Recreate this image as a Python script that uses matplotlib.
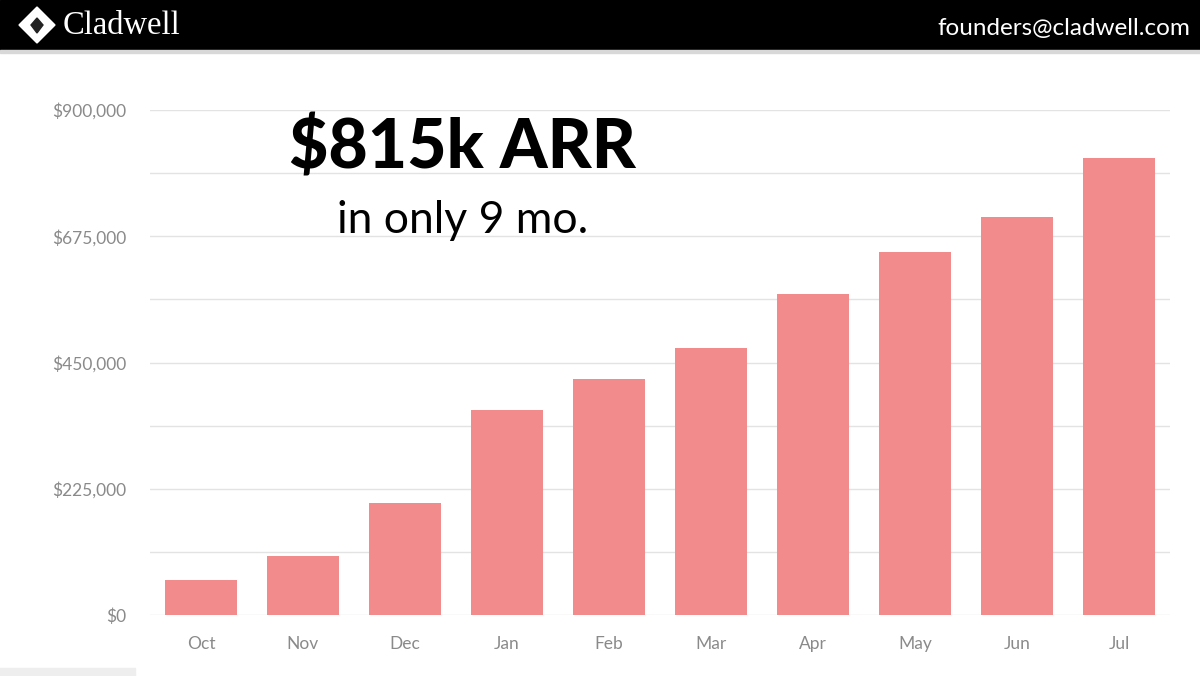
import matplotlib
matplotlib.use('Agg')
import matplotlib.pyplot as plt
from matplotlib.patches import Rectangle, Polygon
from matplotlib.ticker import FuncFormatter, MultipleLocator

months = ['Oct', 'Nov', 'Dec', 'Jan', 'Feb', 'Mar', 'Apr', 'May', 'Jun', 'Jul']
arr = [62000, 105000, 200000, 365000, 420000, 476000, 572000, 647000, 709000, 814000]
y_ticks = [0, 225000, 450000, 675000, 900000]

BAR = '#F28B8B'
GRAY = '#8a8a8a'

plt.rcParams['font.family'] = ['Lato', 'DejaVu Sans']

fig = plt.figure(figsize=(12, 6.76), dpi=100)
fig.patch.set_facecolor('white')

# header band
fig.patches.append(Rectangle((0, 1 - 50/676), 1, 50/676, transform=fig.transFigure,
                             color='black', zorder=0))
fig.patches.append(Rectangle((0, 1 - 53/676), 1, 3/676, transform=fig.transFigure,
                             color='#d8d8d8', zorder=0))
# diamond logo
cx, cy, r = 37/1200, 1 - 25/676, 18
fig.patches.append(Polygon([(cx - r/1200, cy), (cx, cy + r/676), (cx + r/1200, cy), (cx, cy - r/676)],
                           closed=True, transform=fig.transFigure, color='white', zorder=1))
fig.patches.append(Polygon([(cx - 6/1200, cy), (cx, cy + 7/676), (cx + 6/1200, cy), (cx, cy - 8/676)],
                           closed=True, transform=fig.transFigure, color='#222222', zorder=2))
fig.text(63/1200, 1 - 26/676, 'Cladwell', color='white', fontsize=23.5,
         family=['Liberation Serif', 'DejaVu Serif'], va='center', ha='left')
fig.text(1190/1200, 1 - 28/676, 'founders@cladwell.com', color='white', fontsize=17.5,
         va='center', ha='right')

# faint artifact at bottom-left
fig.patches.append(Rectangle((0, 0), 135/1200, 8/676, transform=fig.transFigure,
                             color='#eeeeee', zorder=0))

ax = fig.add_axes([150/1200, 1 - 615/676, 1020/1200, 505/676])
x = list(range(len(months)))
ax.bar(x, arr, width=0.71, color=BAR, zorder=3)
ax.set_xlim(-0.5, len(months) - 0.5)
ax.set_ylim(0, 900000)
ax.set_yticks(y_ticks)
ax.yaxis.set_minor_locator(MultipleLocator(112500))
ax.yaxis.set_major_formatter(FuncFormatter(lambda v, p: f'${v:,.0f}'))
ax.grid(True, axis='y', which='both', color='#e3e3e3', linewidth=1, zorder=0)
ax.set_xticks(x)
ax.set_xticklabels(months)
ax.tick_params(axis='both', which='both', length=0, colors=GRAY, labelsize=12.5)
ax.tick_params(axis='y', pad=17)
ax.tick_params(axis='x', pad=15)
for s in ax.spines.values():
    s.set_visible(False)

fig.text(462/1200, 1 - 149/676, '$815k ARR', fontsize=49, fontweight='black',
         color='black', ha='center', va='center')
fig.text(463/1200, 1 - 221/676, 'in only 9 mo.', fontsize=32, fontweight='normal',
         color='black', ha='center', va='center')

plt.savefig('out.png', dpi=100)
